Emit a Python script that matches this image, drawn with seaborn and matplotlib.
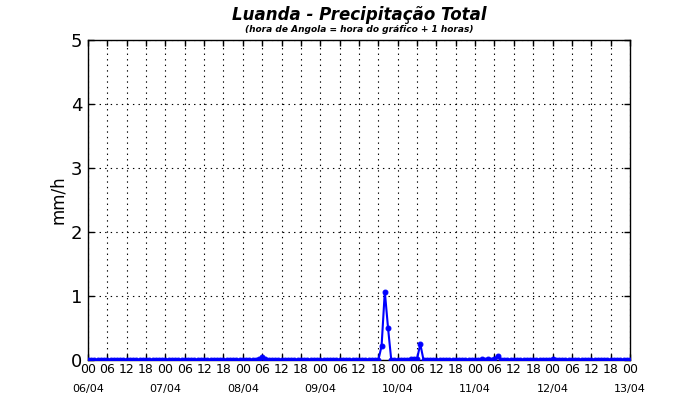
import numpy as np
import pandas as pd
import matplotlib
matplotlib.use("Agg")
import matplotlib.pyplot as plt
import matplotlib.dates as mdates
import seaborn as sns

# ─── Data (hourly precipitation, mm/h) ───────────────────────────────────────

days = ["06/04", "07/04", "08/04", "09/04", "10/04", "11/04", "12/04", "13/04"]

rain_0604 = [0.0] * 24
rain_0704 = [0.0] * 24
rain_0804 = [0, 0, 0, 0, 0, 0.02, 0.04, 0.02, 0, 0, 0, 0,
             0, 0, 0, 0, 0, 0, 0, 0, 0, 0, 0, 0]
rain_0904 = [0, 0, 0, 0, 0, 0, 0, 0, 0, 0, 0, 0,
             0, 0, 0, 0, 0, 0, 0, 0.22, 1.07, 0.50, 0, 0]
rain_1004 = [0, 0, 0, 0, 0.01, 0.02, 0.02, 0.25, 0, 0, 0, 0,
             0, 0, 0, 0, 0, 0, 0, 0, 0, 0, 0, 0]
rain_1104 = [0, 0, 0.01, 0, 0.02, 0, 0.02, 0.07, 0, 0, 0, 0,
             0, 0, 0, 0, 0, 0, 0, 0, 0, 0, 0, 0]
rain_1204 = [0.01, 0, 0, 0, 0, 0, 0, 0, 0, 0, 0, 0,
             0, 0, 0, 0, 0, 0, 0, 0, 0, 0, 0, 0]
rain_1304 = [0.0]

values = (rain_0604 + rain_0704 + rain_0804 + rain_0904 +
          rain_1004 + rain_1104 + rain_1204 + rain_1304)

times = pd.date_range("2024-04-06 00:00", periods=len(values), freq="h")
df = pd.DataFrame({"time": times, "mmh": values})

# ─── Plot ─────────────────────────────────────────────────────────────────────

sns.set_style("white")
plt.rcParams["font.family"] = ["DejaVu Sans"]
plt.rcParams["text.color"] = "black"
plt.rcParams["axes.labelcolor"] = "black"
plt.rcParams["xtick.color"] = "black"
plt.rcParams["ytick.color"] = "black"
plt.rcParams["xtick.direction"] = "in"
plt.rcParams["ytick.direction"] = "in"
plt.rcParams["lines.scale_dashes"] = False

fig = plt.figure(figsize=(7, 4), dpi=100)
ax = fig.add_axes([88 / 700, 40 / 400, 542 / 700, 320 / 400])

sns.lineplot(data=df, x="time", y="mmh", ax=ax, color="#0000ff",
             linewidth=1.5, marker="o", markersize=3.5,
             markeredgecolor="#0000ff", zorder=5)

ax.set_xlim(times[0], times[-1])
ax.set_ylim(0, 5)
ax.set_yticks(range(0, 6))
ax.tick_params(axis="y", labelsize=13, length=4, width=1, pad=4,
               left=True, right=True)
ax.tick_params(axis="x", labelsize=9, length=4, width=1, pad=2,
               bottom=True, top=True)

ax.xaxis.set_major_locator(mdates.HourLocator(byhour=[0, 6, 12, 18]))
ax.xaxis.set_major_formatter(mdates.DateFormatter("%H"))

ax.grid(True, color="black", linestyle=(0, (1, 3)), linewidth=0.8)
for s in ax.spines.values():
    s.set_color("black")
    s.set_linewidth(1)

ax.set_xlabel("")
ax.set_ylabel("mm/h", fontsize=12, labelpad=3)

# day labels under the hour ticks
day_pos = pd.date_range("2024-04-06", periods=len(days), freq="D")
for d, lab in zip(day_pos, days):
    ax.text(mdates.date2num(d), -0.075, lab, transform=ax.get_xaxis_transform(),
            ha="center", va="top", fontsize=8)

ax.text(0.5, 1.078, "Luanda - Precipitação Total", transform=ax.transAxes,
        ha="center", va="center", fontsize=12, fontweight="bold", fontstyle="italic")
ax.text(0.5, 1.034, "(hora de Angola = hora do gráfico + 1 horas)",
        transform=ax.transAxes, ha="center", va="center", fontsize=6.5,
        fontweight="bold", fontstyle="italic")

plt.savefig("out.png", dpi=100)
plt.close()
